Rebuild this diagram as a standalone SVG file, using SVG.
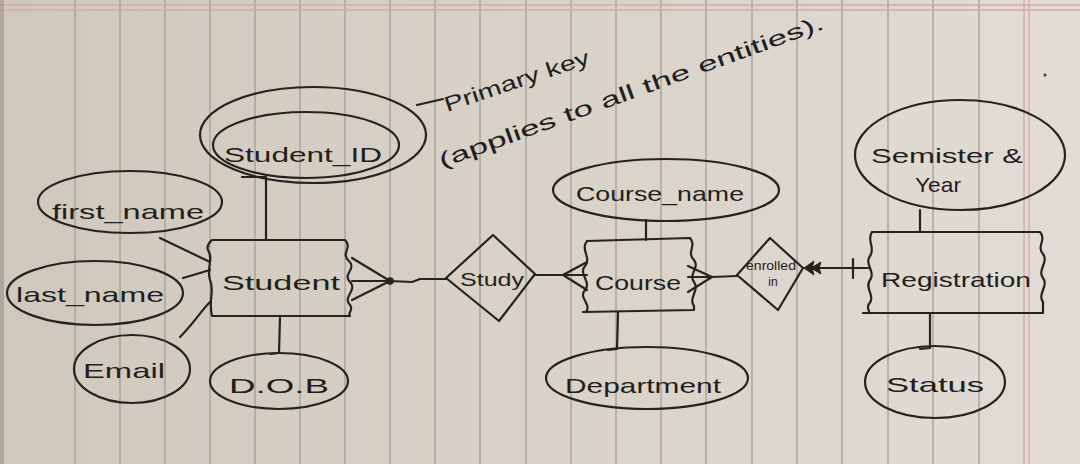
<svg xmlns="http://www.w3.org/2000/svg" width="1080" height="464" viewBox="0 0 1080 464">
<defs>
<linearGradient id="paper" x1="0" y1="0" x2="1" y2="0">
<stop offset="0" stop-color="#cfc8bd"/>
<stop offset="0.5" stop-color="#d8d2c8"/>
<stop offset="1" stop-color="#e1ddd6"/>
</linearGradient>
<style>
.ink{fill:none;stroke:#26221f;stroke-width:2.2;stroke-linecap:round;stroke-linejoin:round}
.rule{fill:none;stroke:#a7a199;stroke-width:1.4}
.pink{fill:none;stroke:#d8a9a6;stroke-width:1.4}
text{font-family:"Liberation Sans","DejaVu Sans",sans-serif;fill:#221e1b}
.lbl{font-size:21px}
.sm{font-size:12px}
</style>
</defs>
<rect width="1080" height="464" fill="url(#paper)"/>
<path class="rule" d="M75,0V464M120,0V464M165,0V464M210,0V464M255,0V464M300,0V464M345,0V464M390,0V464M435,0V464M480,0V464M526,0V464M571,0V464M616,0V464M661,0V464M706,0V464M752,0V464M797,0V464M842,0V464M888,0V464M933,0V464M979,0V464"/>
<path class="pink" d="M1024,0V464M1029,0V464M0,5H1080M0,10H1080"/>
<rect x="0" y="0" width="4" height="464" fill="#8e8a84" opacity="0.5"/>
<circle cx="1045" cy="75" r="1.5" fill="#3a3530"/>

<g id="connectors">
<path class="ink" d="M417,105 L443,99"/>
<path class="ink" d="M242,177 L266,177 L266,240"/>
<path class="ink" d="M160,238 L210,262"/>
<path class="ink" d="M183,278 L210,270"/>
<path class="ink" d="M180,337 C195,322 200,312 210,302"/>
<path class="ink" d="M280,318 L279,353 L270,354"/>
<path class="ink" d="M352,258 L390,281 M352,281 L390,281 M352,300 L390,281 M390,281 L412,282 L420,279 L447,279"/>
<circle cx="390" cy="281" r="3.8" fill="#26221f"/>
<path class="ink" d="M535,275 L563,275 M563,275 L587,262 M563,275 L587,275 M563,275 L587,290"/>
<path class="ink" d="M646,220 L646,240"/>
<path class="ink" d="M618,312 L617,349 L608,350"/>
<path class="ink" d="M688,266 L712,277 M688,277 L712,277 M688,292 L712,277 M712,277 L737,276"/>
<path class="ink" d="M803,268 L868,268 M853,259 L853,278"/>
<path d="M804,268 L814,261 L812,268 L814,275 Z M811,268 L821,262 L819,268 L821,274 Z" fill="#26221f" stroke="#26221f" stroke-width="1"/>
<path class="ink" d="M920,210 L920,232"/>
<path class="ink" d="M930,313 L930,348 L920,349"/>
</g>

<g id="note">
<text class="lbl" transform="translate(447,112) rotate(-18.7)" textLength="152" lengthAdjust="spacingAndGlyphs">Primary key</text>
<text class="lbl" transform="translate(442,168) rotate(-20)" textLength="408" lengthAdjust="spacingAndGlyphs">(applies to all the entities).</text>
</g>

<g id="student_id">
<ellipse class="ink" cx="313" cy="135" rx="113" ry="48"/>
<ellipse class="ink" cx="306" cy="145" rx="93" ry="33"/>
<text class="lbl" x="303" y="162" text-anchor="middle" textLength="158" lengthAdjust="spacingAndGlyphs">Student_ID</text>
</g>

<g id="first_name">
<ellipse class="ink" cx="130" cy="202" rx="92" ry="31"/>
<text class="lbl" x="128" y="219" text-anchor="middle" textLength="152" lengthAdjust="spacingAndGlyphs">first_name</text>
</g>

<g id="last_name">
<ellipse class="ink" cx="95" cy="293" rx="88" ry="32"/>
<text class="lbl" x="90" y="302" text-anchor="middle" textLength="148" lengthAdjust="spacingAndGlyphs">last_name</text>
</g>

<g id="email">
<ellipse class="ink" cx="132" cy="369" rx="58" ry="34"/>
<text class="lbl" x="124" y="378" text-anchor="middle" textLength="82" lengthAdjust="spacingAndGlyphs">Email</text>
</g>

<g id="dob">
<ellipse class="ink" cx="279" cy="381" rx="69" ry="28"/>
<text class="lbl" x="279" y="393" text-anchor="middle" textLength="100" lengthAdjust="spacingAndGlyphs">D.O.B</text>
</g>

<g id="student">
<path class="ink" d="M212,240 L345,240 C353,248 340,253 349,261 C357,269 342,274 350,282 C358,290 342,297 350,305 C354,310 347,313 350,316 L212,316 C208,300 215,290 210,280 C206,268 214,260 208,250 C206,245 210,242 212,240 Z"/>
<text class="lbl" x="281" y="290" text-anchor="middle" textLength="118" lengthAdjust="spacingAndGlyphs">Student</text>
</g>

<g id="study">
<path class="ink" d="M446,278 L493,235 L535,274 L499,321 Z"/>
<text x="492" y="286" text-anchor="middle" font-size="18" textLength="64" lengthAdjust="spacingAndGlyphs">Study</text>
</g>

<g id="course">
<path class="ink" d="M587,241 L690,238 C697,246 686,252 694,260 C700,268 688,274 694,282 C700,290 688,298 694,306 L694,310 L583,312 M587,241 C580,250 592,258 585,266 C578,274 592,282 585,290 C578,298 592,304 586,312"/>
<text class="lbl" x="638" y="290" text-anchor="middle" textLength="86" lengthAdjust="spacingAndGlyphs">Course</text>
</g>

<g id="course_name">
<ellipse class="ink" cx="666" cy="190" rx="113" ry="31"/>
<text class="lbl" x="660" y="201" text-anchor="middle" textLength="168" lengthAdjust="spacingAndGlyphs">Course_name</text>
</g>

<g id="department">
<ellipse class="ink" cx="647" cy="378" rx="101" ry="31"/>
<text class="lbl" x="643" y="393" text-anchor="middle" textLength="156" lengthAdjust="spacingAndGlyphs">Department</text>
</g>

<g id="enrolled_in">
<path class="ink" d="M737,275 L770,238 L803,268 L778,310 Z"/>
<text class="sm" x="771" y="270" text-anchor="middle" textLength="50" lengthAdjust="spacingAndGlyphs">enrolled</text>
<text class="sm" x="773" y="286" text-anchor="middle">in</text>
</g>

<g id="registration">
<path class="ink" d="M872,232 L1040,232 C1047,240 1036,246 1043,254 C1049,262 1037,270 1043,278 C1049,286 1037,294 1043,302 L1043,313 L863,313 M872,232 C866,240 876,248 870,256 C864,264 876,272 870,280 C864,288 876,296 869,304 C866,308 870,311 869,313"/>
<text class="lbl" x="956" y="287" text-anchor="middle" textLength="150" lengthAdjust="spacingAndGlyphs">Registration</text>
</g>

<g id="semister_year">
<ellipse class="ink" cx="960" cy="155" rx="105" ry="55"/>
<text class="lbl" x="947" y="163" text-anchor="middle" textLength="152" lengthAdjust="spacingAndGlyphs">Semister &amp;</text>
<text class="lbl" x="938" y="192" text-anchor="middle" textLength="46" lengthAdjust="spacingAndGlyphs">Year</text>
</g>

<g id="status">
<ellipse class="ink" cx="935" cy="382" rx="70" ry="36"/>
<text class="lbl" x="935" y="392" text-anchor="middle" textLength="98" lengthAdjust="spacingAndGlyphs">Status</text>
</g>
</svg>
